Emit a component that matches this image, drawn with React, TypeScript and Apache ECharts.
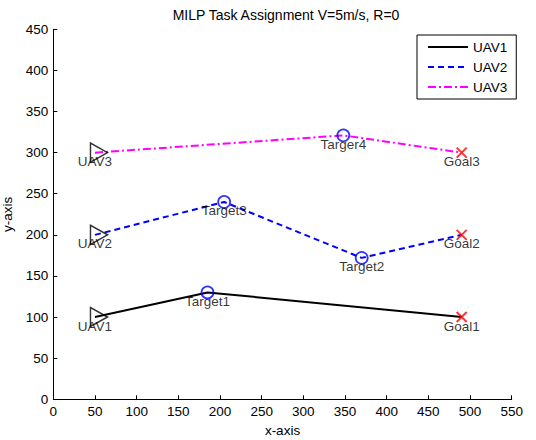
import React, { useEffect, useRef } from "react";
import * as echarts from "echarts";

const titleText = "MILP Task Assignment V=5m/s, R=0";
const xTicks = { min: 0, max: 550, interval: 50 };
const yTicks = { min: 0, max: 450, interval: 50 };

const uav1X = [50, 185, 490];
const uav1Y = [100, 130, 100];
const uav2X = [50, 205, 370, 490];
const uav2Y = [200, 240, 172, 200];
const uav3X = [50, 348, 490];
const uav3Y = [300, 321, 300];

const uavNames = ["UAV1", "UAV2", "UAV3"];
const uavStartX = [50, 50, 50];
const uavStartY = [100, 200, 300];

const targetNames = ["Target1", "Target2", "Target3", "Targer4"];
const targetX = [185, 370, 205, 348];
const targetY = [130, 172, 240, 321];

const goalNames = ["Goal1", "Goal2", "Goal3"];
const goalX = [490, 490, 490];
const goalY = [100, 200, 300];

const FONT = "Liberation Sans, Arial, Helvetica, sans-serif";
const FS = 13.5;

function zip(xs: number[], ys: number[]) {
  return xs.map((x, i) => [x, ys[i]]);
}

export default function App() {
  const ref = useRef<HTMLDivElement>(null);
  useEffect(() => {
    if (!ref.current) return;
    const chart = echarts.init(ref.current, null, { renderer: "svg" });
    const labelStyle = {
      show: true,
      position: "inside",
      color: "#000",
      fontFamily: FONT,
      fontSize: FS,
      formatter: (p: any) => p.name,
    };
    chart.setOption({
      animation: false,
      backgroundColor: "#fff",
      textStyle: { fontFamily: FONT, color: "#000" },
      title: {
        text: titleText,
        left: 281,
        textAlign: "center",
        top: 3,
        textStyle: { fontFamily: FONT, fontSize: 14, fontWeight: "normal", color: "#000" },
      },
      grid: {
        left: 53.3,
        right: 24.3,
        top: 29.3,
        bottom: 40.7,
        containLabel: false,
        outerBoundsMode: "none",
      },
      legend: {
        data: uavNames,
        orient: "vertical",
        left: 417,
        top: 35,
        padding: [5, 9, 5, 10],
        itemWidth: 40,
        itemHeight: 14,
        itemGap: 6,
        borderColor: "#000",
        borderWidth: 1,
        backgroundColor: "#fff",
        itemStyle: { color: "rgba(0,0,0,0)", borderWidth: 0, opacity: 0 },
        textStyle: { fontFamily: FONT, fontSize: FS, color: "#000", lineHeight: 14 },
      },
      xAxis: {
        type: "value",
        min: xTicks.min,
        max: xTicks.max,
        interval: xTicks.interval,
        name: "x-axis",
        nameLocation: "middle",
        nameGap: 24,
        nameTextStyle: { fontFamily: FONT, fontSize: FS, color: "#000", verticalAlign: "top" },
        axisLine: { show: true, lineStyle: { color: "#000", width: 1 } },
        axisTick: { show: true, inside: true, length: 4, lineStyle: { color: "#000" } },
        axisLabel: { fontFamily: FONT, fontSize: FS, color: "#000", margin: 5 },
        splitLine: { show: false },
      },
      yAxis: {
        type: "value",
        min: yTicks.min,
        max: yTicks.max,
        interval: yTicks.interval,
        name: "y-axis",
        nameLocation: "middle",
        nameGap: 31,
        nameTextStyle: { fontFamily: FONT, fontSize: FS, color: "#000" },
        axisLine: { show: true, lineStyle: { color: "#000", width: 1 } },
        axisTick: { show: true, inside: true, length: 4, lineStyle: { color: "#000" } },
        axisLabel: { fontFamily: FONT, fontSize: FS, color: "#000", margin: 5 },
        splitLine: { show: false },
      },
      series: [
        {
          name: "UAV1",
          type: "line",
          data: zip(uav1X, uav1Y),
          symbol: "none",
          lineStyle: { color: "#000", width: 2, type: "solid" },
          itemStyle: { color: "#000" },
          z: 2,
        },
        {
          name: "UAV2",
          type: "line",
          data: zip(uav2X, uav2Y),
          symbol: "none",
          lineStyle: { color: "#0000ff", width: 2, type: [6, 4] },
          itemStyle: { color: "#0000ff" },
          z: 2,
        },
        {
          name: "UAV3",
          type: "line",
          data: zip(uav3X, uav3Y),
          symbol: "none",
          lineStyle: { color: "#ff00ff", width: 2, type: [8, 3, 2, 3] },
          itemStyle: { color: "#ff00ff" },
          z: 2,
        },
        {
          name: "uavMarkers",
          type: "scatter",
          data: uavNames.map((n, i) => ({ name: n, value: [uavStartX[i], uavStartY[i]] })),
          symbol: "triangle",
          symbolSize: [19, 17],
          symbolRotate: -90,
          symbolOffset: [4, 0],
          itemStyle: { color: "rgba(0,0,0,0)", borderColor: "#000", borderWidth: 1.5 },
          label: { ...labelStyle, offset: [-4, 9] },
          z: 3,
        },
        {
          name: "targetMarkers",
          type: "scatter",
          data: targetNames.map((n, i) => ({ name: n, value: [targetX[i], targetY[i]] })),
          symbol: "circle",
          symbolSize: 12,
          itemStyle: { color: "rgba(0,0,0,0)", borderColor: "#0000ff", borderWidth: 1.8 },
          label: { ...labelStyle, offset: [0, 9] },
          z: 3,
        },
        {
          name: "goalMarkers",
          type: "scatter",
          data: goalNames.map((n, i) => ({ name: n, value: [goalX[i], goalY[i]] })),
          symbol: "path://M0,0L10,10M0,10L10,0",
          symbolSize: 10,
          itemStyle: { color: "rgba(0,0,0,0)", borderColor: "#ff0000", borderWidth: 2 },
          label: { ...labelStyle, offset: [0, 9] },
          z: 3,
        },
      ],
    });
    return () => chart.dispose();
  }, []);
  return (
    <div
      ref={ref}
      style={{ position: "fixed", left: 0, top: 0, width: 536, height: 440 }}
    />
  );
}
